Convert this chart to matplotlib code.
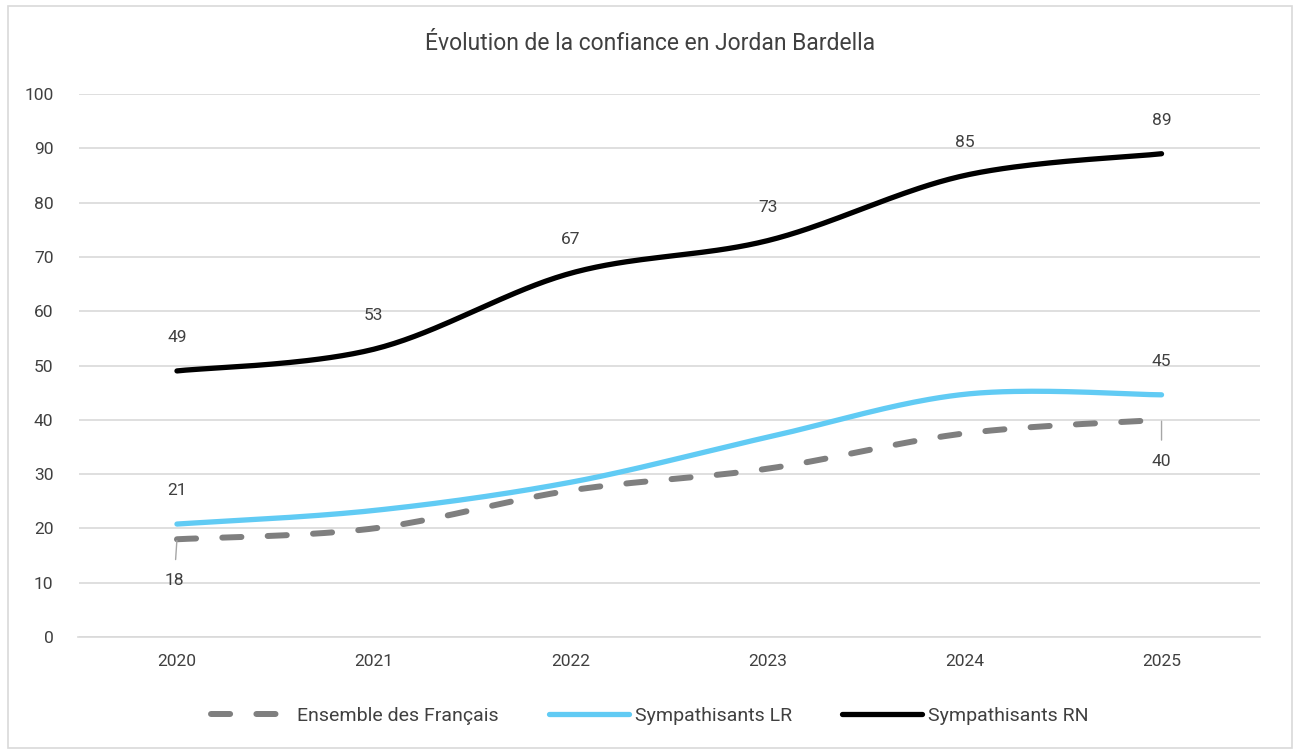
import numpy as np
import matplotlib
matplotlib.use("Agg")
import matplotlib.pyplot as plt
from matplotlib.patches import Rectangle

plt.rcParams['font.family'] = ['Roboto', 'DejaVu Sans']

years = ["2020", "2021", "2022", "2023", "2024", "2025"]
ensemble = [18, 20, 27, 31, 37.5, 40]
lr = [20.8, 23.3, 28.5, 36.8, 44.7, 44.6]
rn = [49, 53, 67, 73, 85, 89]

ensemble_labels = {0: "18", 5: "40"}
lr_labels = {0: "21", 5: "45"}
rn_labels = {i: str(v) for i, v in enumerate(rn)}


def smooth(xs, ys, n=40):
    xs = np.asarray(xs, float)
    ys = np.asarray(ys, float)
    px, py = [], []
    m = len(xs)
    for i in range(m - 1):
        x0, y0 = xs[i], ys[i]
        x3, y3 = xs[i + 1], ys[i + 1]
        xp, yp = (xs[i - 1], ys[i - 1]) if i > 0 else (x0, y0)
        xn, yn = (xs[i + 2], ys[i + 2]) if i + 2 < m else (x3, y3)
        x1, y1 = x0 + (x3 - xp) / 6, y0 + (y3 - yp) / 6
        x2, y2 = x3 - (xn - x0) / 6, y3 - (yn - y0) / 6
        t = np.linspace(0, 1, n)
        bx = (1 - t) ** 3 * x0 + 3 * (1 - t) ** 2 * t * x1 + 3 * (1 - t) * t ** 2 * x2 + t ** 3 * x3
        by = (1 - t) ** 3 * y0 + 3 * (1 - t) ** 2 * t * y1 + 3 * (1 - t) * t ** 2 * y2 + t ** 3 * y3
        px.extend(bx)
        py.extend(by)
    return np.array(px), np.array(py)


fig = plt.figure(figsize=(13, 7.54), dpi=100)
fig.patches.append(Rectangle((0.006, 0.008), 0.988, 0.984, transform=fig.transFigure,
                             fill=False, edgecolor="#D9D9D9", linewidth=1.2))
ax = fig.add_axes([78.5 / 1300, 1 - 637 / 754, (1260 - 78.5) / 1300, (637 - 94) / 754])

x = np.arange(len(years))
grey = "#7F7F7F"
blue = "#61CBF4"

sx, sy = smooth(x, ensemble)
ax.plot(sx, sy, color=grey, lw=4.3, dashes=(3.2, 4.4), dash_capstyle='round',
        solid_capstyle='round', label="Ensemble des Français", zorder=3)
sx, sy = smooth(x, lr)
ax.plot(sx, sy, color=blue, lw=3.8, solid_capstyle='round', label="Sympathisants LR", zorder=4)
sx, sy = smooth(x, rn)
ax.plot(sx, sy, color="black", lw=3.8, solid_capstyle='round', label="Sympathisants RN", zorder=5)

lab_kw = dict(fontsize=12.5, color="#404040", ha="center", va="center")
for i, t in rn_labels.items():
    ax.annotate(t, (x[i], rn[i]), xytext=(0, 24), textcoords="offset points", **lab_kw)
for i, t in lr_labels.items():
    ax.annotate(t, (x[i], lr[i]), xytext=(0, 24), textcoords="offset points", **lab_kw)
for i, t in ensemble_labels.items():
    dx = -2 if i == 0 else 0
    ax.annotate(t, (x[i], ensemble[i]), xytext=(dx, -30), textcoords="offset points",
                arrowprops=dict(arrowstyle="-", color="#A6A6A6", lw=1, shrinkA=8, shrinkB=1),
                **lab_kw)

ax.set_xlim(-0.5, len(years) - 0.5)
ax.set_ylim(0, 100)
ax.set_yticks(np.arange(0, 101, 10))
ax.set_xticks(x)
ax.set_xticklabels(years)
ax.grid(axis="y", color="#D9D9D9", lw=1.2)
ax.set_axisbelow(True)
for s in ["top", "right", "left"]:
    ax.spines[s].set_visible(False)
ax.spines["bottom"].set_color("#D9D9D9")
ax.spines["bottom"].set_linewidth(1.2)
ax.tick_params(axis="both", length=0, labelsize=12.5, labelcolor="#404040")
ax.tick_params(axis="y", pad=18)
ax.tick_params(axis="x", pad=12)

fig.text(0.5, 1 - 44 / 754, "Évolution de la confiance en Jordan Bardella", ha="center", va="center",
         fontsize=16.5, color="#404040")

fig.legend(loc="center", bbox_to_anchor=(0.5, 1 - 716 / 754), ncol=3, frameon=False,
           fontsize=14, handlelength=4.1, columnspacing=2.6, handletextpad=0.3,
           labelcolor="#404040")

fig.savefig("out.png", dpi=100)
